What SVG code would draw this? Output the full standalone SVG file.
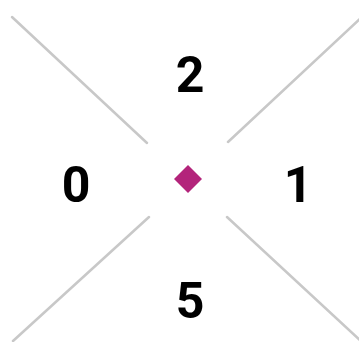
<svg xmlns="http://www.w3.org/2000/svg" width="359" height="342" viewBox="0 0 359 342">
<style>
.ln{stroke:#c8c8c8;stroke-width:2.5;stroke-linecap:round;fill:none}
.lb{font-family:Roboto,"Liberation Sans",sans-serif;font-weight:bold;font-size:50px;fill:#000;text-anchor:middle}
</style>
<rect width="359" height="342" fill="#fff"/>
<g id="connectors">
<line class="ln" x1="12" y1="17" x2="147" y2="143"/>
<line class="ln" x1="228" y1="142" x2="362" y2="17"/>
<line class="ln" x1="149" y1="217" x2="13" y2="341"/>
<line class="ln" x1="227" y1="217" x2="362" y2="342"/>
</g>
<g id="center"><polygon points="188,165 202,179 188,193 174,179" fill="#b3247b"/></g>
<g id="n2"><text class="lb" x="190" y="92">2</text></g>
<g id="n0"><text class="lb" x="76" y="202">0</text></g>
<g id="n1"><text class="lb" x="298" y="202">1</text></g>
<g id="n5"><text class="lb" x="190" y="318">5</text></g>
</svg>
